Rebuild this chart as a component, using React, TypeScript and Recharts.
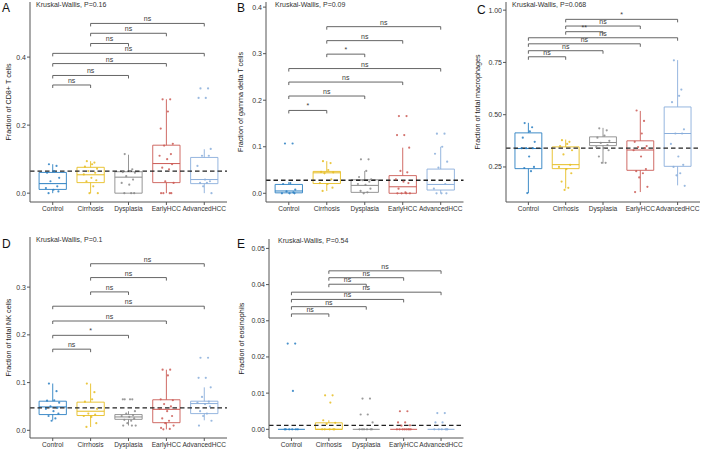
import React from "react";
import {
  ComposedChart,
  XAxis,
  YAxis,
  Scatter,
  ReferenceArea,
  ReferenceLine,
  ReferenceDot,
} from "recharts";

const GRUPOS = ["Control", "Cirrhosis", "Dysplasia", "EarlyHCC", "AdvancedHCC"];
const CORES = ["#2a7fc2", "#e6bd22", "#8a8a8a", "#cb5a55", "#8aaedb"];
const PARES: [number, number][] = [[1, 2], [1, 3], [1, 4], [1, 5], [2, 3], [2, 4], [2, 5]];
const JITTER = [-0.1, 0.1, 0.04, -0.15, 0.17, -0.06, 0.12, -0.18, 0.02, 0.15, -0.11, 0.07, -0.03, 0.19, -0.14, 0.09, -0.08, 0.13, -0.17, 0.05];

// A - CD8+ T
const A_LOW = [0.0, 0.0, 0.0, 0.0, 0.0];
const A_Q1 = [0.011, 0.031, 0.0, 0.031, 0.028];
const A_MED = [0.028, 0.054, 0.047, 0.087, 0.04];
const A_Q3 = [0.061, 0.076, 0.063, 0.141, 0.105];
const A_HIGH = [0.085, 0.094, 0.113, 0.276, 0.129];
const A_PONTOS = [
  [0.085, 0.08, 0.065, 0.06, 0.045, 0.035, 0.02, 0.015, 0.01, 0.005, 0.0],
  [0.094, 0.09, 0.085, 0.078, 0.072, 0.065, 0.06, 0.055, 0.045, 0.038, 0.035, 0.02, 0.0, 0.0],
  [0.115, 0.07, 0.065, 0.062, 0.06, 0.05, 0.04, 0.03, 0.025, 0.0, 0.0, 0.0],
  [0.276, 0.276, 0.24, 0.19, 0.145, 0.14, 0.115, 0.11, 0.1, 0.085, 0.075, 0.07, 0.035, 0.03, 0.0, 0.0, 0.0, 0.0],
  [0.308, 0.308, 0.28, 0.28, 0.13, 0.11, 0.11, 0.08, 0.04, 0.035, 0.03, 0.03, 0.02, 0.0],
];
const A_BRK_Y = [0.318, 0.346, 0.381, 0.411, 0.44, 0.47, 0.499];
const A_BRK_LAB = ["ns", "ns", "ns", "ns", "ns", "ns", "ns"];

// B - gamma delta T
const B_LOW = [0.0, 0.005, 0.0, 0.0, 0.0];
const B_Q1 = [0.001, 0.021, 0.002, 0.0, 0.007];
const B_MED = [0.005, 0.044, 0.017, 0.014, 0.019];
const B_Q3 = [0.019, 0.047, 0.029, 0.038, 0.052];
const B_HIGH = [0.024, 0.069, 0.048, 0.098, 0.1];
const B_PONTOS = [
  [0.107, 0.107, 0.022, 0.02, 0.008, 0.004, 0.002, 0.0, 0.0, 0.0],
  [0.069, 0.065, 0.05, 0.046, 0.045, 0.043, 0.03, 0.022, 0.02, 0.012, 0.005],
  [0.073, 0.073, 0.048, 0.035, 0.03, 0.028, 0.025, 0.02, 0.018, 0.01, 0.005, 0.002, 0.0],
  [0.166, 0.166, 0.125, 0.125, 0.098, 0.048, 0.045, 0.03, 0.025, 0.022, 0.01, 0.002, 0.0, 0.0, 0.0, 0.0],
  [0.128, 0.128, 0.1, 0.085, 0.068, 0.055, 0.02, 0.01, 0.0, 0.0, 0.0],
];
const B_BRK_Y = [0.178, 0.209, 0.239, 0.268, 0.299, 0.328, 0.358];
const B_BRK_LAB = ["*", "ns", "ns", "ns", "*", "ns", "ns"];

// C - macrophages
const C_LOW = [0.125, 0.147, 0.266, 0.13, 0.162];
const C_Q1 = [0.242, 0.242, 0.352, 0.234, 0.253];
const C_MED = [0.338, 0.261, 0.367, 0.331, 0.41];
const C_Q3 = [0.413, 0.346, 0.394, 0.375, 0.537];
const C_HIGH = [0.461, 0.381, 0.437, 0.518, 0.761];
const C_PONTOS = [
  [0.46, 0.44, 0.42, 0.39, 0.37, 0.34, 0.34, 0.34, 0.3, 0.25, 0.245, 0.23, 0.125],
  [0.378, 0.37, 0.36, 0.35, 0.33, 0.31, 0.26, 0.25, 0.24, 0.22, 0.18, 0.15, 0.14],
  [0.435, 0.425, 0.4, 0.39, 0.375, 0.365, 0.355, 0.345, 0.34, 0.33, 0.3, 0.27, 0.27],
  [0.52, 0.47, 0.41, 0.37, 0.35, 0.345, 0.34, 0.33, 0.3, 0.24, 0.23, 0.22, 0.2, 0.155, 0.13],
  [0.76, 0.62, 0.59, 0.56, 0.43, 0.41, 0.41, 0.36, 0.3, 0.26, 0.25, 0.22, 0.21, 0.16],
];
const C_BRK_Y = [0.777, 0.806, 0.839, 0.868, 0.897, 0.924, 0.956];
const C_BRK_LAB = ["ns", "ns", "ns", "ns", "**", "ns", "*"];

// D - NK
const D_LOW = [0.021, 0.007, 0.01, 0.002, 0.021];
const D_Q1 = [0.033, 0.031, 0.023, 0.016, 0.035];
const D_MED = [0.049, 0.04, 0.028, 0.044, 0.056];
const D_Q3 = [0.061, 0.059, 0.033, 0.064, 0.061];
const D_HIGH = [0.098, 0.098, 0.04, 0.127, 0.09];
const D_PONTOS = [
  [0.098, 0.082, 0.063, 0.062, 0.058, 0.05, 0.047, 0.045, 0.04, 0.035, 0.03, 0.025, 0.02],
  [0.098, 0.08, 0.065, 0.06, 0.045, 0.035, 0.033, 0.03, 0.028, 0.015, 0.007],
  [0.065, 0.065, 0.065, 0.065, 0.04, 0.035, 0.032, 0.03, 0.028, 0.025, 0.022, 0.02, 0.015, 0.01, 0.01, 0.01],
  [0.127, 0.127, 0.115, 0.065, 0.063, 0.055, 0.05, 0.045, 0.04, 0.03, 0.025, 0.02, 0.015, 0.01, 0.005, 0.003, 0.002],
  [0.152, 0.152, 0.11, 0.11, 0.09, 0.07, 0.06, 0.058, 0.055, 0.05, 0.04, 0.035, 0.03, 0.02, 0.01],
];
const D_BRK_Y = [0.17, 0.199, 0.229, 0.26, 0.29, 0.32, 0.349];
const D_BRK_LAB = ["ns", "*", "ns", "ns", "ns", "ns", "ns"];

// E - eosinophils
const E_LOW = [0, 0, 0, 0, 0];
const E_Q1 = [0, 0, 0, 0, 0];
const E_MED = [0, 0, 0, 0, 0];
const E_Q3 = [0, 0.0018, 0, 0, 0];
const E_HIGH = [0, 0.0025, 0, 0, 0];
const E_PONTOS = [
  [0.0237, 0.0237, 0.0106, 0, 0, 0, 0, 0, 0],
  [0.0094, 0.0094, 0.0074, 0.0025, 0.0018, 0.0015, 0, 0, 0, 0, 0],
  [0.0085, 0.0085, 0.0041, 0.0041, 0.0019, 0, 0, 0, 0, 0, 0],
  [0.005, 0.005, 0.0019, 0.0019, 0.0011, 0.001, 0, 0, 0, 0, 0, 0, 0, 0],
  [0.0045, 0.0045, 0.0019, 0.0019, 0, 0, 0, 0, 0, 0],
];
const E_BRK_Y = [0.0319, 0.0339, 0.0359, 0.0379, 0.0401, 0.0419, 0.0438];
const E_BRK_LAB = ["ns", "ns", "ns", "ns", "ns", "ns", "ns"];

const FONTE = '"Liberation Sans", Arial, Helvetica, sans-serif';

function Painel({ p, g }: { p: any; g: any }) {
  const tip = (p.dominio[1] - p.dominio[0]) * 0.015;
  const meia = 0.36;
  return (
    <div style={{ position: "absolute", left: g.left, top: g.top }}>
      <ComposedChart
        width={g.width}
        height={g.height}
        margin={{ top: g.mTop, right: g.mRight, bottom: 0, left: 0 }}
      >
        <XAxis
          type="number"
          dataKey="x"
          domain={[0.4, 5.6]}
          ticks={[1, 2, 3, 4, 5]}
          interval={0}
          allowDataOverflow
          height={16}
          tickSize={3}
          tickMargin={1}
          tickFormatter={(v: number) => GRUPOS[Math.round(v) - 1]}
          tick={{ fontSize: 6.6, fill: "#333" }}
          axisLine={{ stroke: "#555" }}
          tickLine={{ stroke: "#555" }}
        />
        <YAxis
          type="number"
          dataKey="y"
          domain={p.dominio}
          ticks={p.ticks}
          interval={0}
          allowDataOverflow
          width={g.yW}
          tickSize={3}
          tickMargin={1}
          tickFormatter={(v: number) => v.toFixed(p.casas)}
          tick={{ fontSize: 7, fill: "#333" }}
          axisLine={{ stroke: "#555" }}
          tickLine={{ stroke: "#555" }}
          label={{
            value: p.titulo,
            angle: -90,
            position: "insideLeft",
            offset: g.labelOffset,
            style: { textAnchor: "middle", fontSize: 7.2, fill: "#222" },
          }}
        />

        {GRUPOS.map((_, i) => {
          const x = i + 1;
          return [
            <ReferenceLine key={"wl" + i} segment={[{ x, y: p.low[i] }, { x, y: p.q1[i] }]} stroke={CORES[i]} strokeWidth={0.9} />,
            <ReferenceLine key={"wh" + i} segment={[{ x, y: p.q3[i] }, { x, y: p.high[i] }]} stroke={CORES[i]} strokeWidth={0.9} />,
            <ReferenceArea key={"bx" + i} x1={x - meia} x2={x + meia} y1={p.q1[i]} y2={p.q3[i]} fill="none" stroke={CORES[i]} strokeWidth={0.9} />,
            <ReferenceLine key={"md" + i} segment={[{ x: x - meia, y: p.med[i] }, { x: x + meia, y: p.med[i] }]} stroke={CORES[i]} strokeWidth={1} />,
          ];
        })}

        {p.pontos.map((vals: number[], i: number) => (
          <Scatter
            key={"s" + i}
            data={vals.map((y, j) => ({ x: i + 1 + JITTER[j % JITTER.length], y }))}
            isAnimationActive={false}
            shape={(s: any) => <circle cx={s.cx} cy={s.cy} r={1.1} fill={CORES[i]} fillOpacity={0.85} />}
          />
        ))}

        <ReferenceLine y={p.ref} stroke="#222" strokeDasharray="4.5 3" strokeWidth={1.3} />

        {PARES.map(([a, b], k) => {
          const y = p.brkY[k];
          const texto = p.brkLab[k];
          return [
            <ReferenceLine key={"bh" + k} segment={[{ x: a, y }, { x: b, y }]} stroke="#555" strokeWidth={0.9} />,
            <ReferenceLine key={"ba" + k} segment={[{ x: a, y }, { x: a, y: y - tip }]} stroke="#555" strokeWidth={0.9} />,
            <ReferenceLine key={"bb" + k} segment={[{ x: b, y }, { x: b, y: y - tip }]} stroke="#555" strokeWidth={0.9} />,
            <ReferenceDot
              key={"bt" + k}
              x={(a + b) / 2}
              y={y}
              r={0.5}
              fill="none"
              stroke="none"
              label={{
                position: "top",
                content: (lp: any) => {
                  const vb = lp.viewBox;
                  return (
                    <text
                      x={vb.x + vb.width / 2}
                      y={vb.y - 1.5}
                      textAnchor="middle"
                      fontSize={7}
                      fill="#3a3a3a"
                      style={{ fill: "#3a3a3a" }}
                    >
                      {texto}
                    </text>
                  );
                },
              }}
            />,
          ];
        })}
      </ComposedChart>
      <div style={{ position: "absolute", left: g.letraX, top: g.letraY, fontSize: 12, lineHeight: "12px", color: "#111" }}>
        {p.letra}
      </div>
      <div style={{ position: "absolute", left: g.kwX, top: g.kwY, fontSize: 7, lineHeight: "8px", color: "#333", whiteSpace: "nowrap" }}>
        {p.kw}
      </div>
    </div>
  );
}

const PAINEIS = [
  {
    p: { letra: "A", titulo: "Fraction of CD8+ T cells", kw: "Kruskal-Wallis, P=0.16", low: A_LOW, q1: A_Q1, med: A_MED, q3: A_Q3, high: A_HIGH, pontos: A_PONTOS, brkY: A_BRK_Y, brkLab: A_BRK_LAB, ref: 0.065, dominio: [-0.026, 0.562], ticks: [0, 0.2, 0.4], casas: 1 },
    g: { left: 0, top: 0, width: 232, height: 218, yW: 30, mTop: 2, mRight: 5, labelOffset: 8, letraX: 2, letraY: 2, kwX: 36, kwY: 1 },
  },
  {
    p: { letra: "B", titulo: "Fraction of gamma delta T cells", kw: "Kruskal-Wallis, P=0.09", low: B_LOW, q1: B_Q1, med: B_MED, q3: B_Q3, high: B_HIGH, pontos: B_PONTOS, brkY: B_BRK_Y, brkLab: B_BRK_LAB, ref: 0.028, dominio: [-0.0187, 0.411], ticks: [0, 0.1, 0.2, 0.3, 0.4], casas: 1 },
    g: { left: 232, top: 0, width: 237, height: 218, yW: 34, mTop: 2, mRight: 5.5, labelOffset: 8, letraX: 5, letraY: 2, kwX: 43, kwY: 1 },
  },
  {
    p: { letra: "C", titulo: "Fraction of total macrophages", kw: "Kruskal-Wallis, P=0.068", low: C_LOW, q1: C_Q1, med: C_MED, q3: C_Q3, high: C_HIGH, pontos: C_PONTOS, brkY: C_BRK_Y, brkLab: C_BRK_LAB, ref: 0.34, dominio: [0.0824, 1.039], ticks: [0.25, 0.5, 0.75, 1.0], casas: 2 },
    g: { left: 470, top: 0, width: 236, height: 218, yW: 36, mTop: 2, mRight: 6, labelOffset: 7, letraX: 7, letraY: 4, kwX: 42, kwY: 1 },
  },
  {
    p: { letra: "D", titulo: "Fraction of total NK cells", kw: "Kruskal-Wallis, P=0.1", low: D_LOW, q1: D_Q1, med: D_MED, q3: D_Q3, high: D_HIGH, pontos: D_PONTOS, brkY: D_BRK_Y, brkLab: D_BRK_LAB, ref: 0.047, dominio: [-0.0161, 0.405], ticks: [0, 0.1, 0.2, 0.3], casas: 1 },
    g: { left: 0, top: 235, width: 232, height: 219, yW: 30, mTop: 2, mRight: 5, labelOffset: 8, letraX: 2, letraY: 3, kwX: 36, kwY: 1 },
  },
  {
    p: { letra: "E", titulo: "Fraction of eosinophils", kw: "Kruskal-Wallis, P=0.54", low: E_LOW, q1: E_Q1, med: E_MED, q3: E_Q3, high: E_HIGH, pontos: E_PONTOS, brkY: E_BRK_Y, brkLab: E_BRK_LAB, ref: 0.0011, dominio: [-0.0024, 0.0526], ticks: [0, 0.01, 0.02, 0.03, 0.04, 0.05], casas: 2 },
    g: { left: 232, top: 235, width: 236.5, height: 219, yW: 37, mTop: 4, mRight: 5, labelOffset: 9, letraX: 5, letraY: 3, kwX: 46, kwY: 2 },
  },
];

export default function App() {
  return (
    <div style={{ position: "relative", width: 706, height: 450, background: "#fff", fontFamily: FONTE, overflow: "hidden" }}>
      <style>{`body{margin:0} svg text{font-family:${FONTE}}`}</style>
      {PAINEIS.map((x, i) => (
        <Painel key={i} p={x.p} g={x.g} />
      ))}
    </div>
  );
}
